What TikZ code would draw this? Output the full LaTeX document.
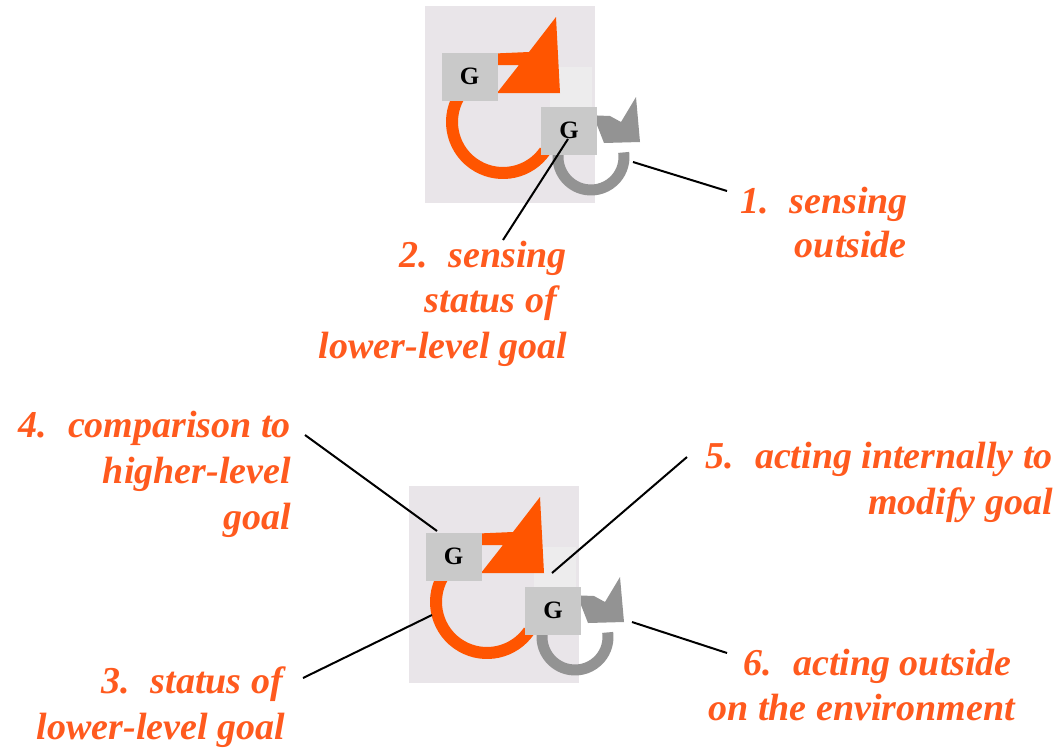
\documentclass[tikz,border=0pt]{standalone}
\usepackage{fontspec}
\setmainfont{Liberation Serif}
\definecolor{iconbg}{HTML}{E9E5E9}
\definecolor{iconlite}{HTML}{EDECED}
\definecolor{gbox}{HTML}{C9C9C9}
\definecolor{orng}{HTML}{FF5500}
\definecolor{gry}{HTML}{939393}
\definecolor{lbl}{HTML}{FF5A1E}
\tikzset{
 lab/.style={anchor=base east, inner sep=0pt, text=lbl, font=\fontsize{38}{46}\selectfont\bfseries\itshape},
 gnode/.style={fill=gbox, minimum width=56pt, minimum height=48pt, inner sep=0pt, font=\fontsize{25}{25}\selectfont\bfseries},
 conn/.style={line width=2pt, black},
 orangeloop/.style={draw=orng, line width=12pt},
 grayloop/.style={draw=gry, line width=11pt},
}
\newcommand\drawicon[1]{%
  \fill[iconbg] (0,0) rectangle (170,197);
  \fill[iconlite] (125,61) rectangle (167,102);
  \path[orangeloop] (78,116) ++(210:51) arc[start angle=210, end angle=35, radius=51];
  \fill[orng] (58,48) -- (104,46) -- (131,11) -- (135,87) -- (72,87) -- (94,59) -- (58,59) -- cycle;
  \node[gnode] (#1gu) at (44.5,70.5) {G};
  \path[grayloop] (166,151) ++(190:33) arc[start angle=190, end angle=-8, radius=33];
  \fill[gry] (160,109) -- (185,110) -- (196,116) -- (211,91) -- (215,136) -- (179,137) -- (172,119) -- (160,119) -- cycle;
  \node[gnode] (#1gl) at (144,124.5) {G};
}
\begin{document}
\begin{tikzpicture}[x=1pt,y=-1pt]
\useasboundingbox (0,0) rectangle (1061,748);
\begin{scope}[shift={(425,6)}]
  \drawicon{t}
\end{scope}
\begin{scope}[shift={(409,486)}]
  \drawicon{b}
\end{scope}
% labels
\node[lab] (l1a) at (908,213) {1.\hspace{0.55em}sensing};
\node[lab] (l1b) at (907,257) {outside};
\node[lab] (l2a) at (567,267) {2.\hspace{0.55em}sensing};
\node[lab] (l2b) at (557,312) {status of};
\node[lab] (l2c) at (567,358) {lower-level goal};
\node[lab] (l4a) at (291,437) {4.\hspace{0.55em}comparison to};
\node[lab] (l4b) at (291,483) {higher-level};
\node[lab] (l4c) at (291,529) {goal};
\node[lab] (l5a) at (1053,468) {5.\hspace{0.55em}acting internally to};
\node[lab] (l5b) at (1053,514) {modify goal};
\node[lab] (l3a) at (283,693) {3.\hspace{0.55em}status of};
\node[lab] (l3b) at (285,739) {lower-level goal};
\node[lab] (l6a) at (1012,675) {6.\hspace{0.55em}acting outside};
\node[lab] (l6b) at (1015,720) {on the environment};
% connector ends
\coordinate (c1s) at (633,162); \coordinate (c1e) at (727,191);
\coordinate (c2s) at (568,139); \coordinate (c2e) at (503,240);
\coordinate (c4s) at (437,531); \coordinate (c4e) at (305,435);
\coordinate (c5s) at (552,573); \coordinate (c5e) at (687,457);
\coordinate (c3s) at (432,615); \coordinate (c3e) at (303,678);
\coordinate (c6s) at (632,622); \coordinate (c6e) at (727,653);
\draw[conn] (c1s) -- (c1e);
\draw[conn] (c2s) -- (c2e);
\draw[conn] (c4s) -- (c4e);
\draw[conn] (c5s) -- (c5e);
\draw[conn] (c3s) -- (c3e);
\draw[conn] (c6s) -- (c6e);
\end{tikzpicture}
\end{document}
